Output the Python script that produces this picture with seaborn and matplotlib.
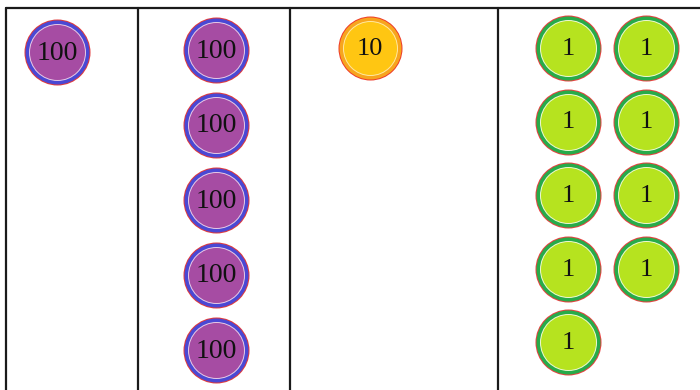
import pandas as pd
import matplotlib.pyplot as plt
import seaborn as sns

# Kolom tabel nilai tempat dan jumlah koin di tiap kolom
coin_values = [100, 100, 10, 1]
coin_counts = [1, 5, 1, 9]
coin_labels = ["100", "100", "10", "1"]

sns.set_style("white")
plt.rcParams['font.family'] = ['Liberation Serif', 'DejaVu Serif']

# Tata letak (piksel) tiap kolom: pusat x, y awal, jarak baris
layout = [
    dict(xs=[57], y0=52, dy=75),
    dict(xs=[216], y0=50, dy=75),
    dict(xs=[370], y0=48, dy=75),
    dict(xs=[568, 646], y0=48, dy=73.5),
]

rows = []
for col, (val, n, lab) in enumerate(zip(coin_values, coin_counts, coin_labels)):
    lay = layout[col]
    per_col = -(-n // len(lay['xs']))  # isi kolom kiri dulu
    for i in range(n):
        c, r = divmod(i, per_col)
        rows.append(dict(x=lay['xs'][c], y=lay['y0'] + r * lay['dy'], value=val, label=lab))
df = pd.DataFrame(rows)

styles = {
    100: dict(edge='#e23a3a', ring='#4a48d4', line='#e6c8e6', fill='#a64ca3', fs=20),
    10: dict(edge='#ee3b2b', ring='#f7a51e', line='#ffe8a0', fill='#ffc612', fs=19),
    1: dict(edge='#e84040', ring='#27ab4a', line='#eef8d0', fill='#b6e31f', fs=19),
}

fig = plt.figure(figsize=(7, 3.9), dpi=100)
ax = fig.add_axes([0, 0, 1, 1])
ax.set_xlim(0, 700)
ax.set_ylim(390, 0)
ax.axis('off')

# Garis tabel
ax.plot([6, 700], [8, 8], color='#1a1a1a', lw=1.6)
for xv in [6, 138, 290, 498]:
    ax.plot([xv, xv], [8, 390], color='#1a1a1a', lw=1.6)

px = 0.72  # 1 piksel = 0.72 pt pada dpi 100
for val, st in styles.items():
    sub = df[df['value'] == val]
    d = 66 if val != 10 else 64
    for diam, col in [(d, st['edge']), (d - 2, st['ring']), (d - 9, st['line']), (d - 11, st['fill'])]:
        sns.scatterplot(data=sub, x='x', y='y', s=(diam * px) ** 2, color=col,
                        linewidth=0, ax=ax, legend=False, zorder=3)

for _, row in df.iterrows():
    ax.text(row['x'], row['y'] + 1, row['label'], ha='center', va='center',
            fontsize=styles[row['value']]['fs'], color='#111111', zorder=5)

plt.savefig('out.png', dpi=100)
plt.close()
